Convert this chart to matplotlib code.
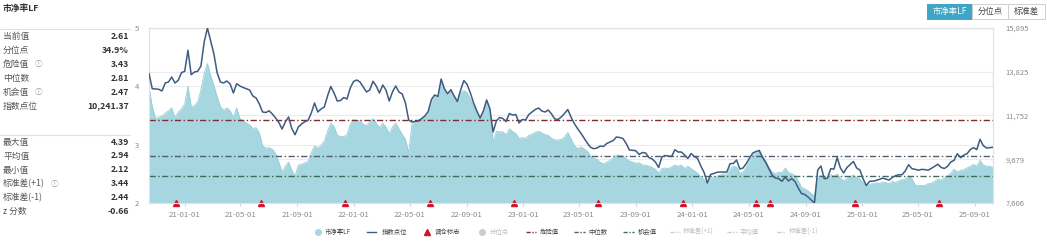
import pandas as pd
import matplotlib
matplotlib.use("Agg")
import matplotlib.pyplot as plt
import matplotlib.dates as mdates
from matplotlib.lines import Line2D
from matplotlib.patches import Rectangle
from matplotlib.transforms import blended_transform_factory

plt.rcParams['font.family'] = ['Noto Sans CJK SC', 'DejaVu Sans']

W, H = 1047, 242

# ---------------- DATA ----------------
dates = pd.date_range('2020-10-16', periods=261, freq='7D')

pb = [
    3.99, 3.65, 3.45, 3.47, 3.49, 3.54, 3.58, 3.63, 3.46, 3.56,
    3.61, 3.70, 4.00, 3.65, 3.67, 3.73, 3.94, 4.22, 4.39, 4.18,
    4.01, 3.82, 3.65, 3.59, 3.63, 3.58, 3.47, 3.63, 3.45, 3.41,
    3.37, 3.34, 3.28, 3.29, 3.20, 2.98, 2.94, 2.95, 2.92, 2.85,
    2.70, 2.53, 2.63, 2.70, 2.56, 2.46, 2.65, 2.66, 2.69, 2.71,
    2.86, 2.98, 2.94, 2.99, 3.06, 3.23, 3.37, 3.31, 3.16, 3.14,
    3.14, 3.17, 3.35, 3.43, 3.41, 3.41, 3.35, 3.33, 3.39, 3.45,
    3.37, 3.29, 3.37, 3.30, 3.19, 3.30, 3.37, 3.27, 3.18, 3.09,
    2.86, 3.35, 3.39, 3.42, 3.45, 3.48, 3.54, 3.73, 3.83, 3.79,
    4.11, 3.93, 3.86, 3.92, 3.81, 3.72, 3.89, 3.93, 3.89, 3.78,
    3.66, 3.54, 3.46, 3.58, 3.77, 3.61, 3.05, 3.23, 3.22, 3.22,
    3.17, 3.27, 3.23, 3.19, 3.11, 3.12, 3.11, 3.16, 3.18, 3.21,
    3.23, 3.20, 3.17, 3.16, 3.11, 3.08, 3.08, 3.09, 3.13, 3.21,
    3.10, 2.99, 2.93, 2.96, 2.93, 2.89, 2.81, 2.77, 2.75, 2.70,
    2.67, 2.70, 2.73, 2.77, 2.82, 2.82, 2.81, 2.76, 2.72, 2.70,
    2.68, 2.69, 2.65, 2.65, 2.63, 2.61, 2.58, 2.51, 2.59, 2.60,
    2.59, 2.62, 2.65, 2.63, 2.65, 2.59, 2.63, 2.59, 2.55, 2.51,
    2.45, 2.40, 2.32, 2.42, 2.45, 2.46, 2.48, 2.50, 2.49, 2.59,
    2.63, 2.62, 2.51, 2.53, 2.62, 2.73, 2.81, 2.87, 2.89, 2.81,
    2.72, 2.61, 2.53, 2.50, 2.53, 2.52, 2.60, 2.52, 2.50, 2.47,
    2.38, 2.27, 2.24, 2.21, 2.16, 2.12, 2.44, 2.47, 2.45, 2.42,
    2.49, 2.46, 2.50, 2.42, 2.38, 2.42, 2.45, 2.48, 2.44, 2.41,
    2.35, 2.28, 2.32, 2.33, 2.35, 2.33, 2.36, 2.35, 2.33, 2.37,
    2.35, 2.38, 2.40, 2.41, 2.47, 2.42, 2.31, 2.30, 2.30, 2.30,
    2.33, 2.34, 2.37, 2.41, 2.39, 2.43, 2.47, 2.51, 2.58, 2.53,
    2.56, 2.57, 2.60, 2.63, 2.66, 2.63, 2.73, 2.65, 2.63, 2.63,
    2.61,
]

index_pts = [
    13730, 13020, 13006, 12992, 12911, 13290, 13337, 13574, 13290, 13418,
    13778, 13844, 14839, 13683, 13811, 13844, 14095, 15232, 15895, 15279,
    14663, 13764, 13337, 13290, 13385, 13243, 12816, 13257, 13148, 13077,
    13020, 12958, 12674, 12579, 12295, 11916, 11893, 11973, 11822, 11632,
    11419, 11111, 11443, 11680, 11125, 10841, 11206, 11348, 11452, 11523,
    11869, 12343, 11916, 12058, 12153, 12674, 13124, 12816, 12437, 12461,
    12603, 12532, 13053, 13361, 13432, 13337, 13100, 12864, 12958, 13370,
    13148, 12816, 13195, 12958, 12437, 12864, 13148, 12864, 12769, 12343,
    11537, 11443, 11466, 11490, 11608, 11727, 11940, 12508, 12722, 12650,
    13479, 13020, 12783, 12973, 12674, 12414, 12958, 13408, 13219, 12816,
    12343, 11964, 11632, 11964, 12485, 12082, 10969, 11490, 11656, 11608,
    11466, 11845, 11774, 11798, 11395, 11561, 11537, 11798, 11916, 12035,
    12106, 11964, 11916, 12011, 11822, 11585, 11561, 11680, 11845, 12035,
    11680, 11372, 11135, 10922, 10685, 10448, 10244, 10178, 10211, 10306,
    10282, 10424, 10495, 10566, 10732, 10708, 10661, 10424, 10116, 10102,
    10079, 9903, 9998, 9974, 9761, 9690, 9548, 9287, 9785, 9856,
    9832, 9809, 10131, 10022, 10022, 9880, 9714, 9951, 9809, 9714,
    9359, 9051, 8553, 8956, 9003, 9060, 9074, 9070, 9074, 9468,
    9477, 9643, 9216, 9264, 9477, 9737, 9974, 10045, 10093, 9761,
    9524, 9216, 8909, 8790, 8757, 8634, 8838, 8648, 8766, 8624,
    8316, 8056, 8009, 7890, 7748, 7606, 9169, 9359, 8757, 8780,
    9231, 9210, 9761, 9264, 9027, 9287, 9430, 9572, 9264, 9169,
    8743, 8435, 8634, 8640, 8676, 8724, 8785, 8738, 8691, 8814,
    8904, 8942, 8946, 9131, 9420, 9235, 9202, 9160, 9198, 9188,
    9160, 9245, 9340, 9444, 9292, 9240, 9344, 9548, 9624, 9941,
    9752, 9875, 9941, 10135, 10230, 10135, 10623, 10325, 10211, 10225,
    10241.37,
]

rebalance_dates = pd.to_datetime([
    '2020-12-14', '2021-06-15', '2021-12-13', '2022-06-13', '2022-12-12',
    '2023-06-12', '2023-12-11', '2024-05-17', '2024-06-17', '2024-12-16',
    '2025-06-16',
])

danger_val, median_val, chance_val = 3.43, 2.81, 2.47

left_ticks = [2, 3, 4, 5]
right_ticks = [7606, 9679, 11752, 13825, 15895]
right_labels = ['7,606', '9,679', '11,752', '13,825', '15,895']
x_ticks = pd.date_range('2021-01-01', '2025-09-01', freq='4MS')

stats_top = [('当前值', '2.61', False), ('分位点', '34.9%', False),
             ('危险值', '3.43', True), ('中位数', '2.81', False),
             ('机会值', '2.47', True), ('指数点位', '10,241.37', False)]
stats_bottom = [('最大值', '4.39', False), ('平均值', '2.94', False),
                ('最小值', '2.12', False), ('标准差(+1)', '3.44', True),
                ('标准差(-1)', '2.44', False), ('z 分数', '-0.66', False)]

# ---------------- STYLE ----------------
fill_c = '#a6d7e0'
line_c = '#3d5c80'
danger_c = '#7d2f2f'
median_c = '#4f5d6c'
chance_c = '#426b60'
grid_c = '#ebebeb'
tri_c = '#d0142c'
dash = (0, (4.5, 1.8, 1.0, 1.8))


def fx(x):
    return x / W


def fy(y):
    return 1 - y / H


fig = plt.figure(figsize=(W / 100, H / 100), dpi=100)
ax = fig.add_axes([fx(149), 39 / H, 844 / W, 175 / H])
ax2 = ax.twinx()

ax.fill_between(dates, 2, pb, color=fill_c, lw=0, zorder=2)
ax.plot(dates, pb, color='#95cdd8', lw=0.6, zorder=2)

for v, c in [(danger_val, danger_c), (median_val, median_c), (chance_val, chance_c)]:
    ax.axhline(v, color=c, lw=1.0, linestyle=dash, zorder=3)

ax.set_ylim(2, 5)
ax.set_xlim(dates[0], dates[-1])
ax.set_yticks(left_ticks)
ax.set_xticks(x_ticks)
ax.xaxis.set_major_formatter(mdates.DateFormatter('%y-%m-%d'))

ax2.plot(dates, index_pts, color=line_c, lw=1.1, zorder=4)
ax2.set_ylim(right_ticks[0], right_ticks[-1])
ax2.set_yticks(right_ticks)
ax2.set_yticklabels(right_labels)

# grid lines under the fill for both scales
ax.hlines(left_ticks, 0, 1, transform=ax.get_yaxis_transform(), color=grid_c, lw=0.8, zorder=0.5)
tr2 = blended_transform_factory(ax.transAxes, ax2.transData)
ax.hlines(right_ticks, 0, 1, transform=tr2, color=grid_c, lw=0.8, zorder=0.5)

ax.plot(rebalance_dates, [2] * len(rebalance_dates), marker='^', ls='none',
        color=tri_c, ms=5, clip_on=False, zorder=6)

for a in (ax, ax2):
    for s in a.spines.values():
        s.set_color('#e3e3e3')
        s.set_linewidth(0.8)
ax.tick_params(axis='y', length=0, labelsize=5.5, colors='#8a8a8a', pad=7)
ax2.tick_params(axis='y', length=0, labelsize=5.5, colors='#8a8a8a', pad=9)
ax.tick_params(axis='x', length=2, color='#d0d0d0', labelsize=5.6,
               labelcolor='#8a8a8a', pad=4)

# ---------------- LEFT PANEL ----------------
fig.text(fx(3), fy(8.3), '市净率LF', fontsize=6.3, weight='bold', color='#333333',
         va='center', ha='left')
for yline in (29.3, 135):
    fig.add_artist(Line2D([0, fx(130)], [fy(yline)] * 2, color='#e2e2e2', lw=0.8))

rows = list(zip(stats_top, [36.7, 50.7, 64.3, 78.3, 92.3, 106])) + \
    list(zip(stats_bottom, [142.7, 156, 170, 184, 198, 211.7]))
for (lab, val, icon), yy in rows:
    fig.text(fx(3), fy(yy), lab, fontsize=6.3, color='#555555', va='center', ha='left')
    fig.text(fx(129), fy(yy), val, fontsize=6.3, color='#333333', weight='bold',
             va='center', ha='right')
    if icon:
        ix = 55 if lab.startswith('标准差') else 39
        fig.text(fx(ix), fy(yy), 'ⓘ', fontsize=5.5, color='#999999', va='center',
                 ha='center', family=['Noto Sans CJK SC', 'Noto Sans CJK JP', 'DejaVu Sans'])

# ---------------- BUTTONS ----------------
buttons = [('市净率LF', 927, 972, True), ('分位点', 972, 1008, False), ('标准差', 1008, 1045, False)]
for lab, x0, x1, sel in buttons:
    fig.add_artist(Rectangle((fx(x0), fy(19)), (x1 - x0) / W, 15 / H,
                             transform=fig.transFigure,
                             facecolor='#3ea5c6' if sel else 'white',
                             edgecolor='#3ea5c6' if sel else '#cfcfcf', lw=0.7))
    fig.text(fx((x0 + x1) / 2), fy(11.5), lab, fontsize=6.0,
             color='white' if sel else '#444444', ha='center', va='center')

# ---------------- LEGEND ----------------
ly = fy(232)
leg_fs = 4.6
leg_dash = (0, (3, 1.2, 1, 1.2))


def leg_line(x0, x1, color, ls='-'):
    fig.add_artist(Line2D([fx(x0), fx(x1)], [ly, ly], color=color, lw=1.0, linestyle=ls))


def leg_text(x, s, color='#444444'):
    fig.text(fx(x), ly, s, fontsize=leg_fs, color=color, va='center', ha='left')


fig.add_artist(Line2D([fx(318)], [ly], marker='o', color=fill_c, ms=4, ls='none'))
leg_text(325, '市净率LF')
leg_line(367, 376, line_c)
leg_text(382, '指数点位')
fig.add_artist(Line2D([fx(427)], [ly], marker='^', color=tri_c, ms=4, ls='none'))
leg_text(435, '调仓标志')
fig.add_artist(Line2D([fx(482)], [ly], marker='o', color='#cccccc', ms=4, ls='none'))
leg_text(490, '分位点', '#bbbbbb')
leg_line(526, 536, danger_c, leg_dash)
leg_text(540, '危险值')
leg_line(574, 585, median_c, leg_dash)
leg_text(588, '中位数')
leg_line(623, 634, chance_c, leg_dash)
leg_text(638, '机会值')
leg_line(670, 680, '#cccccc', leg_dash)
leg_text(683, '标准差(+1)', '#bbbbbb')
leg_line(727, 737, '#cccccc', leg_dash)
leg_text(740, '平均值', '#bbbbbb')
leg_line(777, 786, '#cccccc', leg_dash)
leg_text(789, '标准差(-1)', '#bbbbbb')

fig.savefig('out.png', dpi=100)
